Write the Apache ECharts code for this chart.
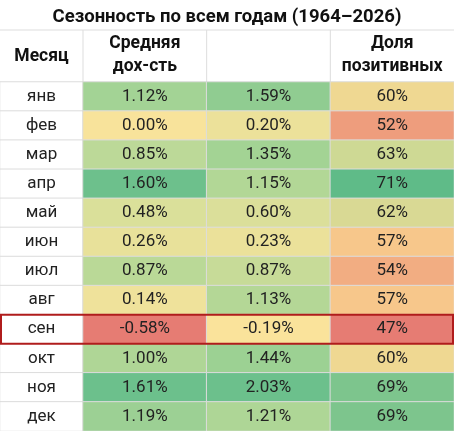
<!DOCTYPE html><html><head><meta charset="utf-8"><script src="https://cdn.jsdelivr.net/npm/echarts@6/dist/echarts.min.js"></script>
<style>body{margin:0}#c{width:454px;height:431px}</style></head><body><div id="c"></div><script>
const months=['янв','фев','мар','апр','май','июн','июл','авг','сен','окт','ноя','дек'];
const headers=['Средняя\nдох-сть','Медианная\nдох-сть','Доля\nпозитивных'];
const meanRet=[1.12,0.00,0.85,1.60,0.48,0.26,0.87,0.14,-0.58,1.00,1.61,1.19];
const medianRet=[1.59,0.20,1.35,1.15,0.60,0.23,0.87,1.13,-0.19,1.44,2.03,1.21];
const positive=[60,52,63,71,62,57,54,57,47,60,69,69];
const title='Сезонность по всем годам (1964–2026)';
const F='Roboto, "Noto Sans", sans-serif';
const chart=echarts.init(document.getElementById('c'));
const lbl=(fmt)=>({show:true,color:'#222',fontSize:17,fontFamily:F,formatter:fmt});
const item={borderColor:'#dcdcdc',borderWidth:1};
const mk=(arr,i)=>arr.map((v,j)=>[i,j,v]);
chart.setOption({
 animation:false,backgroundColor:'#fff',
 title:{text:title,left:'center',top:3,textStyle:{fontSize:18.5,fontWeight:'bold',color:'#111',fontFamily:F}},
 grid:[{left:0,width:83,top:82,bottom:0},{left:83,right:0,top:82,bottom:0}],
 xAxis:[{type:'category',gridIndex:0,position:'top',data:['Месяц'],axisTick:{show:false},axisLine:{lineStyle:{color:'#ddd'}},axisLabel:{color:'#111',fontWeight:'bold',fontSize:17.5,fontFamily:F,margin:16}},
  {type:'category',gridIndex:1,position:'top',data:headers,axisTick:{show:false},axisLine:{lineStyle:{color:'#ddd'}},axisLabel:{color:'#111',fontWeight:'bold',fontSize:17.5,fontFamily:F,lineHeight:23,margin:4}}],
 yAxis:[{type:'category',gridIndex:0,data:months,inverse:true,show:false},{type:'category',gridIndex:1,data:months,inverse:true,show:false}],
 visualMap:[
  {show:false,seriesIndex:1,dimension:2,min:-0.58,max:1.61,inRange:{color:['#e67c73','#fae39b','#d8e09a','#aad596','#6cc08c']}},
  {show:false,seriesIndex:2,dimension:2,min:-0.19,max:2.03,inRange:{color:['#fae39b','#dfe09a','#a8d595','#6cc08c']}},
  {show:false,seriesIndex:3,dimension:2,min:47,max:71,inRange:{color:['#e67c73','#f0a47f','#fad891','#b8da96','#5fbb88']}}],
 series:[
  {type:'heatmap',xAxisIndex:0,yAxisIndex:0,data:months.map((m,j)=>[0,j,0]),itemStyle:{color:'#fff',borderColor:'#dcdcdc',borderWidth:1},label:lbl(p=>months[p.value[1]]),emphasis:{disabled:true}},
  {type:'heatmap',xAxisIndex:1,yAxisIndex:1,data:mk(meanRet,0),itemStyle:item,label:lbl(p=>p.value[2].toFixed(2)+'%'),emphasis:{disabled:true}},
  {type:'heatmap',xAxisIndex:1,yAxisIndex:1,data:mk(medianRet,1),itemStyle:item,label:lbl(p=>p.value[2].toFixed(2)+'%'),emphasis:{disabled:true}},
  {type:'heatmap',xAxisIndex:1,yAxisIndex:1,data:mk(positive,2),itemStyle:item,label:lbl(p=>p.value[2]+'%'),emphasis:{disabled:true}}]
});
const a=chart.convertToPixel({gridIndex:1},[0,'сен']);
const b=chart.convertToPixel({gridIndex:1},[0,'окт']);
const h=b[1]-a[1];
const x2=chart.convertToPixel({gridIndex:1},[2,0]);
const x3=chart.convertToPixel({gridIndex:1},[1,0]);
const cw=x2[0]-x3[0];
chart.setOption({graphic:[
 {type:'line',shape:{x1:0,y1:30,x2:454,y2:30},style:{stroke:'#ddd',lineWidth:1}},
 {type:'line',shape:{x1:83,y1:30,x2:83,y2:82},style:{stroke:'#ddd',lineWidth:1}},
 {type:'line',shape:{x1:x3[0]-cw/2,y1:30,x2:x3[0]-cw/2,y2:82},style:{stroke:'#ddd',lineWidth:1}},
 {type:'line',shape:{x1:x2[0]-cw/2,y1:30,x2:x2[0]-cw/2,y2:82},style:{stroke:'#ddd',lineWidth:1}},
 {type:'rect',shape:{x:1,y:a[1]-h/2,width:452,height:h},style:{fill:'none',stroke:'#b01c1c',lineWidth:2},z:100}]});
</script></body></html>
